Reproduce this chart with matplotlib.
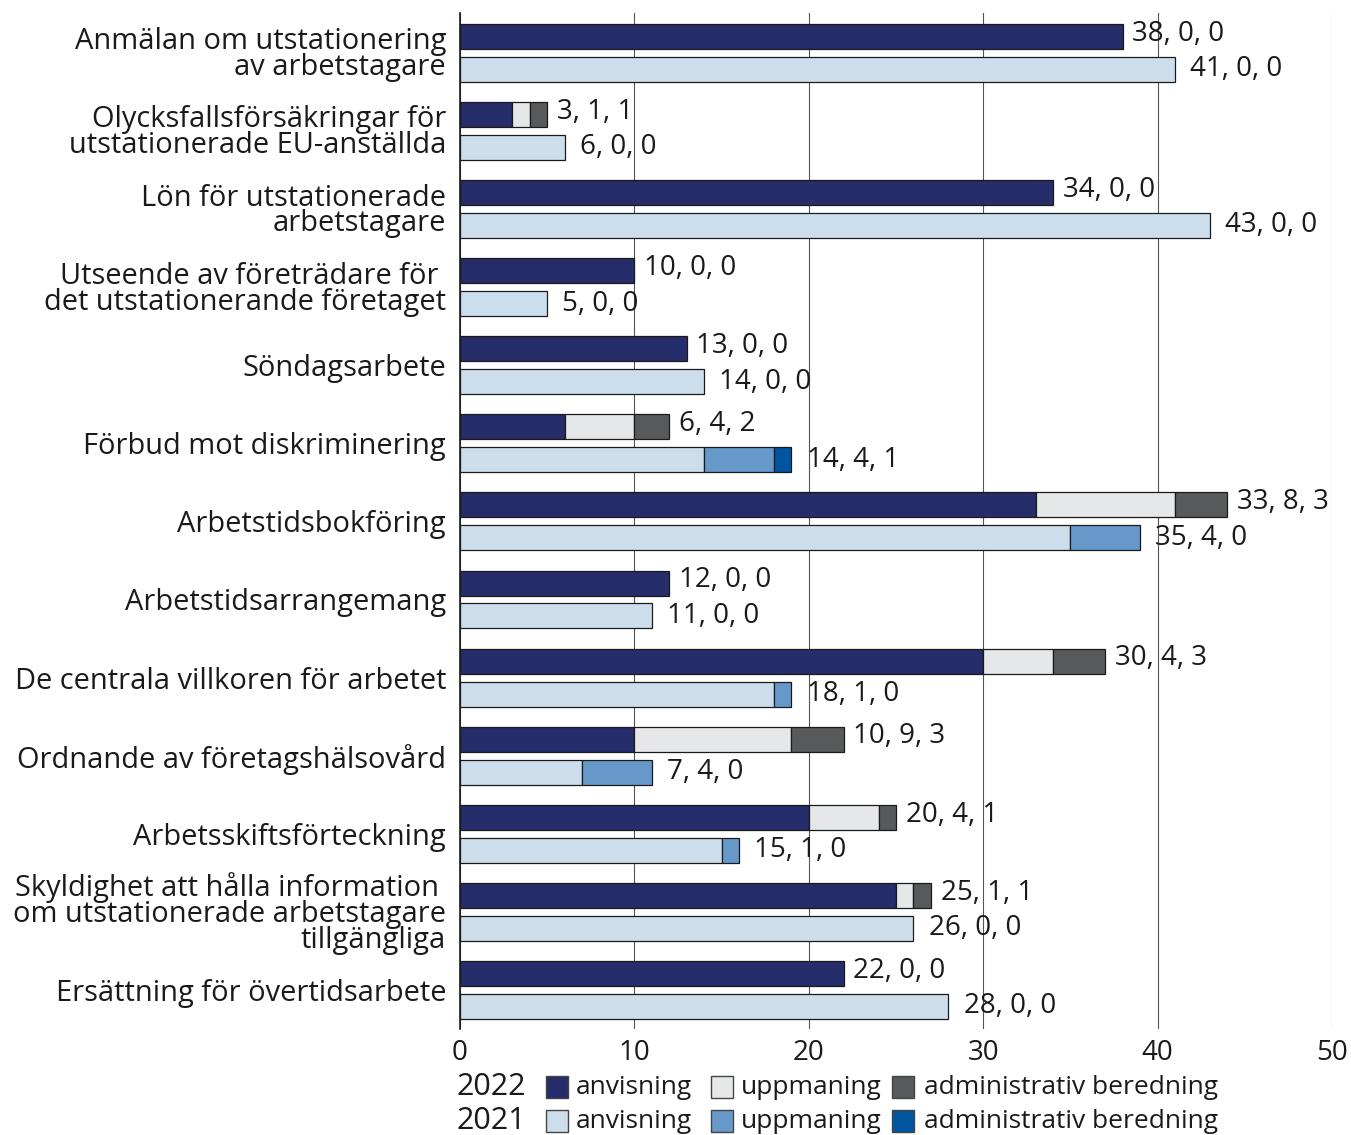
import matplotlib
matplotlib.use("Agg")
import matplotlib.pyplot as plt
import numpy as np
from matplotlib.patches import Rectangle

plt.rcParams['font.family'] = ['Open Sans', 'DejaVu Sans']

categories = [
    "Anmälan om utstationering\nav arbetstagare",
    "Olycksfallsförsäkringar för\nutstationerade EU-anställda",
    "Lön för utstationerade\narbetstagare",
    "Utseende av företrädare för \ndet utstationerande företaget",
    "Söndagsarbete",
    "Förbud mot diskriminering",
    "Arbetstidsbokföring",
    "Arbetstidsarrangemang",
    "De centrala villkoren för arbetet",
    "Ordnande av företagshälsovård",
    "Arbetsskiftsförteckning",
    "Skyldighet att hålla information \nom utstationerade arbetstagare\ntillgängliga",
    "Ersättning för övertidsarbete",
]
anvisning_2022 = [38, 3, 34, 10, 13, 6, 33, 12, 30, 10, 20, 25, 22]
uppmaning_2022 = [0, 1, 0, 0, 0, 4, 8, 0, 4, 9, 4, 1, 0]
admin_2022     = [0, 1, 0, 0, 0, 2, 3, 0, 3, 3, 1, 1, 0]
anvisning_2021 = [41, 6, 43, 5, 14, 14, 35, 11, 18, 7, 15, 26, 28]
uppmaning_2021 = [0, 0, 0, 0, 0, 4, 4, 0, 1, 4, 1, 0, 0]
admin_2021     = [0, 0, 0, 0, 0, 1, 0, 0, 0, 0, 0, 0, 0]
xticks = [0, 10, 20, 30, 40, 50]
legend_labels = ["anvisning", "uppmaning", "administrativ beredning"]
years = ["2022", "2021"]

c22 = ["#262d6b", "#e6e7e8", "#58595b"]
c21 = ["#ccdeec", "#6699c9", "#0055a0"]
edge = "#1a1a1a"
txt = "#1a1a1a"
fs = 19
fs_cat = 20.9
fs_val = 20

fig = plt.figure(figsize=(13.51, 11.35), dpi=100)
ax = fig.add_axes([460/1351, 1-1029/1135, 872/1351, (1029-13)/1135])

y = np.arange(len(categories))
h = 0.32
off = 0.211
y22 = y - off
y21 = y + off

def stack(yy, vals, cols):
    left = np.zeros(len(yy))
    for v, c in zip(vals, cols):
        v = np.array(v, dtype=float)
        mask = v > 0
        ax.barh(yy[mask], v[mask], left=left[mask], height=h, color=c,
                edgecolor=edge, linewidth=0.9, zorder=3)
        left = left + v
    return left

tot22 = stack(y22, [anvisning_2022, uppmaning_2022, admin_2022], c22)
tot21 = stack(y21, [anvisning_2021, uppmaning_2021, admin_2021], c21)

for i in range(len(categories)):
    ax.annotate(f"{anvisning_2022[i]}, {uppmaning_2022[i]}, {admin_2022[i]}",
                xy=(tot22[i], y22[i]), xytext=(7, 2), textcoords="offset points",
                va="center", ha="left", fontsize=fs_val, color=txt, zorder=4)
    ax.annotate(f"{anvisning_2021[i]}, {uppmaning_2021[i]}, {admin_2021[i]}",
                xy=(tot21[i], y21[i]), xytext=(11, 0), textcoords="offset points",
                va="center", ha="left", fontsize=fs_val, color=txt, zorder=4)

ax.set_xlim(0, 50)
ax.set_ylim(len(categories) - 0.5, -0.51)
ax.set_xticks(xticks)
ax.set_xticklabels([str(t) for t in xticks], fontsize=fs_val, color=txt)
ax.set_yticks(y)
ax.set_yticklabels(categories, fontsize=fs_cat, color=txt, linespacing=0.86)
ax.tick_params(axis="both", length=0)
ax.tick_params(axis="y", pad=10)
ax.tick_params(axis="x", pad=7)
ax.xaxis.grid(True, color="#555555", linewidth=0.8, zorder=0)
ax.set_axisbelow(True)
for s in ["top", "right", "bottom"]:
    ax.spines[s].set_visible(False)
ax.spines["left"].set_color("#1a1a1a")
ax.spines["left"].set_linewidth(1.2)
ax.spines["left"].set_zorder(5)

# legend
W, H = 1351, 1135
rows_y = [1087, 1121]
sq_x = [546, 711, 892]
txt_x = [576, 741, 924]
for yr, ry, cols in zip(years, rows_y, [c22, c21]):
    fig.text(457/W, 1-ry/H, yr, fontsize=fs+3, color=txt, va="center", ha="left")
    for sx, tx, c, lab in zip(sq_x, txt_x, cols, legend_labels):
        fig.add_artist(Rectangle((sx/W, 1-(ry+11)/H), 22/W, 22/H,
                                 transform=fig.transFigure, facecolor=c,
                                 edgecolor="#444444", linewidth=1))
        fig.text(tx/W, 1-ry/H, lab, fontsize=fs, color=txt, va="center", ha="left")

fig.savefig("out.png", dpi=100, facecolor="white")
